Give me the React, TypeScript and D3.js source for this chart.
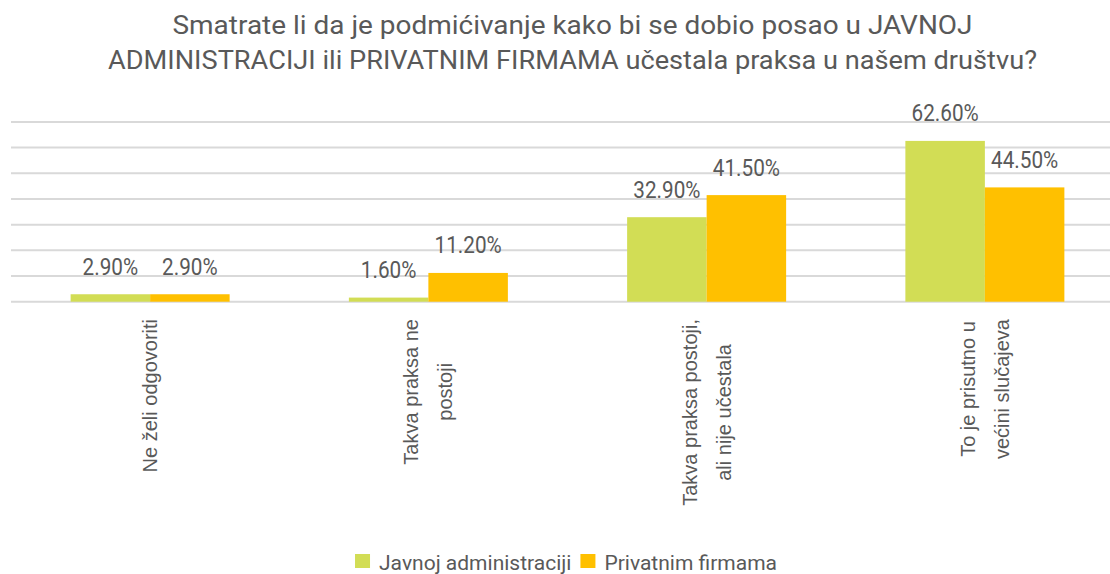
import React, { useEffect, useRef } from "react";
import * as d3 from "d3";

const titleLines = [
  "Smatrate li da je podmićivanje kako bi se dobio posao u JAVNOJ",
  "ADMINISTRACIJI ili PRIVATNIM FIRMAMA učestala praksa u našem društvu?",
];
const categories = [
  ["Ne želi odgovoriti"],
  ["Takva praksa ne", "postoji"],
  ["Takva praksa postoji,", "ali nije učestala"],
  ["To je prisutno u", "većini slučajeva"],
];
const seriesNames = ["Javnoj administraciji", "Privatnim firmama"];
const javnoj = [2.9, 1.6, 32.9, 62.6];
const privatnim = [2.9, 11.2, 41.5, 44.5];
const yTicks = [0, 10, 20, 30, 40, 50, 60, 70];
const colors = ["#D2DD55", "#FFC000"];

const W = 1110;
const H = 574;
const TEXT = "#595959";
const SANS = "Roboto, 'Liberation Sans', sans-serif";
const titleWidths = [800, 929];

export default function App() {
  const ref = useRef<SVGSVGElement>(null);
  useEffect(() => {
    const svg = d3.select(ref.current);
    svg.selectAll("*").remove();

    const condense = (sel: any, f: number) => {
      sel.each(function (this: SVGTextElement) {
        const len = this.getComputedTextLength();
        d3.select(this).attr("textLength", len * f).attr("lengthAdjust", "spacingAndGlyphs");
      });
    };

    const catKeys = categories.map((c) => c.join(" "));
    const x0 = d3.scaleBand<string>().domain(catKeys).range([11, 1124]).padding(0);
    const x1 = d3
      .scaleBand<string>()
      .domain(seriesNames)
      .range([0, x0.bandwidth()])
      .paddingInner(0)
      .paddingOuter(0.75);
    const y = d3.scaleLinear().domain([0, 70]).range([301.7, 121.9]);

    // title
    svg
      .append("g")
      .selectAll("text")
      .data(titleLines)
      .join("text")
      .attr("x", 572.5)
      .attr("y", (_d, i) => 33.5 + i * 35)
      .attr("text-anchor", "middle")
      .attr("font-family", SANS)
      .attr("font-size", 25)
      .attr("fill", TEXT)
      .attr("textLength", (_d, i) => titleWidths[i])
      .attr("lengthAdjust", "spacingAndGlyphs")
      .text((d) => d);

    // gridlines
    svg
      .append("g")
      .selectAll("line")
      .data(yTicks)
      .join("line")
      .attr("x1", 11)
      .attr("x2", W)
      .attr("y1", (d) => y(d))
      .attr("y2", (d) => y(d))
      .attr("stroke", "#D9D9D9")
      .attr("stroke-width", 2);

    const data = [javnoj, privatnim];
    // bars
    data.forEach((vals, si) => {
      const g = svg.append("g");
      g.selectAll("rect")
        .data(vals)
        .join("rect")
        .attr("x", (_d, i) => (x0(catKeys[i]) as number) + (x1(seriesNames[si]) as number))
        .attr("y", (d) => y(d))
        .attr("width", x1.bandwidth())
        .attr("height", (d) => y(0) - y(d))
        .attr("fill", colors[si]);
      const lbl = g
        .selectAll("text")
        .data(vals)
        .join("text")
        .attr("x", (_d, i) => (x0(catKeys[i]) as number) + (x1(seriesNames[si]) as number) + x1.bandwidth() / 2)
        .attr("y", (d) => y(d) - 19.5)
        .attr("text-anchor", "middle")
        .attr("font-family", SANS)
        .attr("font-size", 23)
        .attr("fill", TEXT)
        .text((d) => d.toFixed(2) + "%");
      condense(lbl, 0.9);
    });

    // category labels (rotated)
    categories.forEach((lines, ci) => {
      const cx = (x0(catKeys[ci]) as number) + x0.bandwidth() / 2;
      const g = svg.append("g").attr("transform", `translate(${cx},319) rotate(-90)`);
      const texts = g
        .selectAll("text")
        .data(lines)
        .join("text")
        .attr("font-family", "'Liberation Sans', Arial, sans-serif")
        .attr("font-size", 20)
        .attr("fill", TEXT)
        .attr("text-anchor", "middle")
        .attr("y", (_d, i) => 7 + (i - (lines.length - 1) / 2) * 34)
        .text((d) => d);
      let maxLen = 0;
      texts.each(function (this: SVGTextElement) {
        maxLen = Math.max(maxLen, this.getComputedTextLength());
      });
      texts.attr("x", -maxLen / 2);
    });

    // legend
    const lg = svg.append("g");
    const items = lg.selectAll("g").data(seriesNames).join("g");
    items
      .append("rect")
      .attr("width", 15)
      .attr("height", 14)
      .attr("y", 554)
      .attr("fill", (_d, i) => colors[i]);
    const lt = items
      .append("text")
      .attr("x", 24)
      .attr("y", 570)
      .attr("font-family", SANS)
      .attr("font-size", 21)
      .attr("fill", TEXT)
      .text((d) => d);
    condense(lt, 1.0);
    const widths: number[] = [];
    lt.each(function (this: SVGTextElement) {
      widths.push(+(this.getAttribute("textLength") || 0));
    });
    const gap = 9;
    const total = widths.reduce((a, w) => a + 24 + w, 0) + gap * (widths.length - 1);
    const start = 566 - total / 2;
    let cursor = 0;
    items.attr("transform", (_d, i) => {
      const tx = start + cursor;
      cursor += 24 + widths[i] + gap;
      return `translate(${tx},0)`;
    });
  }, []);

  return (
    <svg
      ref={ref}
      width={W}
      height={H}
      style={{ display: "block", position: "absolute", left: 0, top: 0, background: "#fff" }}
    />
  );
}
